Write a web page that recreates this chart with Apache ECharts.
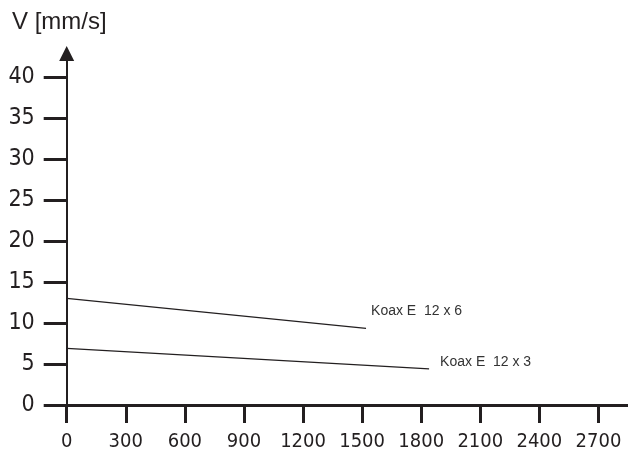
<!DOCTYPE html>
<html>
<head>
<meta charset="utf-8">
<script src="https://cdn.jsdelivr.net/npm/echarts@6/dist/echarts.min.js"></script>
<style>
html,body{margin:0;padding:0;background:#fff;}
#chart{width:628px;height:461px;}
</style>
</head>
<body>
<div id="chart"></div>
<script>
// Data
const seriesNames = ['Koax E  12 x 6', 'Koax E  12 x 3'];
const x12x6 = [0, 1520];
const v12x6 = [13.0, 9.35];
const x12x3 = [0, 1840];
const v12x3 = [6.9, 4.4];
const xTicks = [0, 300, 600, 900, 1200, 1500, 1800, 2100, 2400, 2700];
const yTicks = [0, 5, 10, 15, 20, 25, 30, 35, 40];
const yAxisTitle = 'V [mm/s]';

const ink = '#231f20';
const narrow = '"Liberation Sans Narrow","DejaVu Sans Condensed","Liberation Sans",sans-serif';

function pairs(xs, ys) { return xs.map((x, i) => [x, ys[i]]); }

const chart = echarts.init(document.getElementById('chart'), null, {renderer: 'canvas'});
chart.setOption({
  animation: false,
  backgroundColor: '#fff',
  grid: {left: 66.7, right: 0, top: 53.5, bottom: 56, containLabel: false},
  graphic: [{
    type: 'text', left: 12, top: 10,
    style: {text: yAxisTitle, fontSize: 24, fontFamily: '"Liberation Sans",sans-serif', fill: ink}
  }],
  xAxis: {
    type: 'value', min: 0, max: 2850,
    axisLine: {show: true, lineStyle: {color: ink, width: 3}},
    axisTick: {show: true, customValues: xTicks, length: 18, inside: false, lineStyle: {color: ink, width: 3}},
    axisLabel: {show: true, customValues: xTicks, formatter: v => String(v), fontSize: 20, fontFamily: narrow, color: ink, margin: 27},
    splitLine: {show: false}
  },
  yAxis: {
    type: 'value', min: 0, max: 42.87,
    axisLine: {show: true, symbol: ['none', 'triangle'], symbolSize: [15, 15], lineStyle: {color: ink, width: 2}},
    axisTick: {show: true, customValues: yTicks, length: 23, lineStyle: {color: ink, width: 3}},
    axisLabel: {show: true, customValues: yTicks, formatter: v => String(v), fontSize: 23, fontFamily: narrow, color: ink, margin: 32},
    splitLine: {show: false}
  },
  series: [
    {
      name: seriesNames[0], type: 'line', symbol: 'none',
      data: pairs(x12x6, v12x6),
      lineStyle: {color: ink, width: 1.3},
      endLabel: {show: true, formatter: '{a}', distance: 0, offset: [5, -17.6],
        fontSize: 14, fontFamily: '"Liberation Sans",sans-serif', color: '#333'}
    },
    {
      name: seriesNames[1], type: 'line', symbol: 'none',
      data: pairs(x12x3, v12x3),
      lineStyle: {color: ink, width: 1.3},
      endLabel: {show: true, formatter: '{a}', distance: 0, offset: [11, -6.3],
        fontSize: 14, fontFamily: '"Liberation Sans",sans-serif', color: '#333'}
    }
  ]
});
</script>
</body>
</html>
